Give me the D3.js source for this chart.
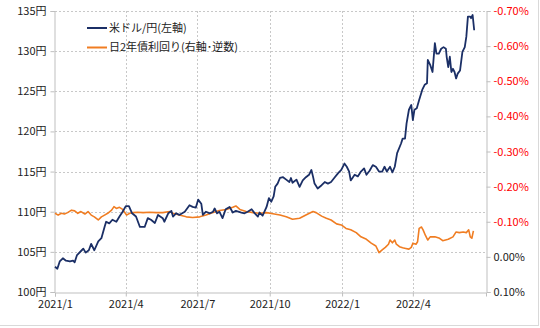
<!DOCTYPE html>
<html><head><meta charset="utf-8">
<script src="https://cdn.jsdelivr.net/npm/d3@7"></script>
<style>
html,body{margin:0;padding:0;background:#fff;}
svg{display:block;font-family:"Noto Sans CJK JP","Noto Sans",sans-serif;}
</style></head>
<body><svg id="c" width="540" height="328"></svg>
<script>
// USD/JPY (left axis)
const usdDates = ["2021-01-01","2021-01-04","2021-01-07","2021-01-11","2021-01-15","2021-01-20","2021-01-24","2021-01-26","2021-01-29","2021-02-04","2021-02-06","2021-02-09","2021-02-13","2021-02-16","2021-02-20","2021-02-25","2021-03-01","2021-03-05","2021-03-07","2021-03-11","2021-03-15","2021-03-20","2021-03-24","2021-03-28","2021-04-01","2021-04-05","2021-04-09","2021-04-14","2021-04-19","2021-04-25","2021-04-29","2021-05-03","2021-05-08","2021-05-12","2021-05-18","2021-05-20","2021-05-25","2021-05-29","2021-05-31","2021-06-04","2021-06-08","2021-06-15","2021-06-21","2021-06-25","2021-06-29","2021-07-02","2021-07-06","2021-07-08","2021-07-12","2021-07-17","2021-07-21","2021-07-23","2021-07-26","2021-07-29","2021-08-02","2021-08-06","2021-08-11","2021-08-15","2021-08-19","2021-08-26","2021-08-30","2021-09-03","2021-09-08","2021-09-12","2021-09-16","2021-09-18","2021-09-22","2021-09-27","2021-09-30","2021-10-03","2021-10-06","2021-10-08","2021-10-11","2021-10-14","2021-10-18","2021-10-22","2021-10-26","2021-10-28","2021-10-30","2021-11-04","2021-11-08","2021-11-12","2021-11-16","2021-11-20","2021-11-23","2021-11-25","2021-11-27","2021-12-01","2021-12-06","2021-12-10","2021-12-14","2021-12-18","2021-12-22","2021-12-27","2021-12-31","2022-01-04","2022-01-07","2022-01-10","2022-01-12","2022-01-17","2022-01-21","2022-01-25","2022-01-29","2022-02-01","2022-02-05","2022-02-09","2022-02-13","2022-02-17","2022-02-21","2022-02-24","2022-02-27","2022-03-03","2022-03-06","2022-03-09","2022-03-12","2022-03-17","2022-03-19","2022-03-22","2022-03-24","2022-03-27","2022-03-30","2022-04-01","2022-04-03","2022-04-06","2022-04-09","2022-04-13","2022-04-16","2022-04-19","2022-04-20","2022-04-23","2022-04-26","2022-04-29","2022-05-01","2022-05-04","2022-05-07","2022-05-10","2022-05-13","2022-05-14","2022-05-16","2022-05-18","2022-05-20","2022-05-22","2022-05-24","2022-05-26","2022-05-28","2022-05-31","2022-06-03","2022-06-06","2022-06-08","2022-06-10","2022-06-13","2022-06-14","2022-06-16","2022-06-18"];
const usdValues = [103.15,102.9,103.8,104.2,103.9,103.8,103.9,103.7,104.6,105.2,105.4,104.9,105.2,106.0,105.2,106.3,106.7,108.1,108.75,108.55,109.0,108.75,109.4,110.0,110.7,110.7,109.8,109.4,108.1,108.1,109.2,109.0,108.6,109.6,109.2,108.75,109.8,110.1,109.4,109.8,109.6,110.0,110.8,110.6,110.5,111.5,111.0,109.6,110.0,109.8,110.0,110.4,109.8,110.0,109.2,110.3,110.6,109.9,110.1,109.9,109.8,110.0,110.3,109.8,109.4,109.9,109.5,110.6,111.7,111.25,111.9,113.1,113.5,114.2,114.3,114.0,113.7,114.2,113.6,114.0,113.1,113.9,114.3,114.6,115.2,114.4,113.5,112.9,113.3,113.7,113.5,113.7,114.2,114.8,115.2,116.0,115.6,115.0,113.9,114.6,114.4,115.0,115.4,114.6,115.1,115.8,115.6,115.0,115.0,115.6,115.0,115.6,114.9,115.6,117.3,118.5,119.1,119.1,121.0,122.7,123.3,121.4,122.7,122.9,123.9,125.2,125.8,126.0,128.9,128.3,127.4,131.0,129.7,129.7,130.3,130.5,130.3,129.3,128.0,129.3,127.4,127.8,127.4,126.6,127.2,127.6,129.9,130.5,131.8,134.3,134.3,134.1,134.5,132.6];

// JGB 2-year yield, % (right axis, inverted)
const jgbDates = ["2021-01-01","2021-01-05","2021-01-09","2021-01-13","2021-01-17","2021-01-22","2021-01-26","2021-01-30","2021-02-03","2021-02-08","2021-02-12","2021-02-16","2021-02-20","2021-02-25","2021-03-01","2021-03-05","2021-03-09","2021-03-14","2021-03-17","2021-03-20","2021-03-24","2021-03-28","2021-04-02","2021-04-06","2021-04-10","2021-04-16","2021-04-23","2021-05-01","2021-05-10","2021-05-18","2021-05-27","2021-05-31","2021-06-08","2021-06-17","2021-06-25","2021-07-04","2021-07-12","2021-07-21","2021-07-29","2021-08-07","2021-08-15","2021-08-19","2021-08-24","2021-09-01","2021-09-10","2021-09-18","2021-09-27","2021-10-05","2021-10-14","2021-10-22","2021-10-30","2021-11-08","2021-11-16","2021-11-25","2021-11-29","2021-12-06","2021-12-12","2021-12-18","2021-12-25","2021-12-31","2022-01-06","2022-01-12","2022-01-19","2022-01-25","2022-02-01","2022-02-07","2022-02-13","2022-02-17","2022-02-21","2022-02-25","2022-03-01","2022-03-03","2022-03-06","2022-03-09","2022-03-11","2022-03-15","2022-03-19","2022-03-23","2022-03-27","2022-03-30","2022-04-01","2022-04-05","2022-04-07","2022-04-09","2022-04-12","2022-04-14","2022-04-17","2022-04-20","2022-04-23","2022-04-29","2022-05-05","2022-05-09","2022-05-16","2022-05-22","2022-05-26","2022-05-30","2022-06-04","2022-06-08","2022-06-11","2022-06-13","2022-06-15","2022-06-17"];
const jgbValues = [-0.124,-0.119,-0.124,-0.122,-0.126,-0.133,-0.131,-0.124,-0.129,-0.122,-0.129,-0.119,-0.114,-0.105,-0.114,-0.119,-0.124,-0.133,-0.143,-0.138,-0.141,-0.135,-0.119,-0.124,-0.126,-0.127,-0.126,-0.127,-0.126,-0.126,-0.129,-0.124,-0.119,-0.114,-0.112,-0.114,-0.119,-0.126,-0.132,-0.135,-0.141,-0.145,-0.135,-0.129,-0.126,-0.124,-0.126,-0.123,-0.119,-0.114,-0.107,-0.110,-0.119,-0.129,-0.126,-0.116,-0.110,-0.105,-0.094,-0.091,-0.081,-0.077,-0.069,-0.057,-0.050,-0.039,-0.031,-0.012,-0.020,-0.027,-0.036,-0.048,-0.040,-0.048,-0.036,-0.029,-0.026,-0.024,-0.022,-0.027,-0.039,-0.036,-0.043,-0.081,-0.085,-0.077,-0.061,-0.048,-0.057,-0.057,-0.053,-0.046,-0.050,-0.057,-0.071,-0.069,-0.071,-0.069,-0.077,-0.057,-0.053,-0.074];

const leftTicks = [100,105,110,115,120,125,130,135];
const leftTickLabels = ["100円","105円","110円","115円","120円","125円","130円","135円"];
const rightTicks = [-0.7,-0.6,-0.5,-0.4,-0.3,-0.2,-0.1,0.0,0.1];
const rightTickLabels = ["-0.70%","-0.60%","-0.50%","-0.40%","-0.30%","-0.20%","-0.10%","0.00%","0.10%"];
const xTickDates = ["2021-01-01","2021-04-01","2021-07-01","2021-10-01","2022-01-01","2022-04-01"];
const xTickLabels = ["2021/1","2021/4","2021/7","2021/10","2022/1","2022/4"];
const seriesNames = ["米ドル/円(左軸)","日2年債利回り(右軸･逆数)"];

const parse = d3.timeParse("%Y-%m-%d");
const svg = d3.select("#c");
const L = 55, R = 486, T = 11, B = 292;

const x = d3.scaleTime().domain([parse("2021-01-01"), parse("2022-07-03")]).range([L, R]);
const yL = d3.scaleLinear().domain([100,135]).range([B, T]);
const yR = d3.scaleLinear().domain([-0.7,0.1]).range([T, B]);

// outer frame shadow
svg.append("line").attr("x1",0).attr("x2",539).attr("y1",325.5).attr("y2",325.5).attr("stroke","#d9d9d9");
svg.append("line").attr("x1",538.5).attr("x2",538.5).attr("y1",0).attr("y2",326).attr("stroke","#d9d9d9");

// gridlines
const grid = svg.append("g");
grid.selectAll("line.h").data(leftTicks.filter(d=>d>100)).enter().append("line")
  .attr("x1",L).attr("x2",R).attr("y1",d=>Math.round(yL(d))+0.5).attr("y2",d=>Math.round(yL(d))+0.5)
  .attr("stroke","#c8c8c8").attr("stroke-dasharray","2,2");
grid.selectAll("line.v").data(xTickDates.slice(1)).enter().append("line")
  .attr("y1",T).attr("y2",B).attr("x1",d=>Math.round(x(parse(d)))+0.5).attr("x2",d=>Math.round(x(parse(d)))+0.5)
  .attr("stroke","#c8c8c8").attr("stroke-dasharray","2,2");

// axes
const axisColor = "#bfbfbf";
const gL = svg.append("g").attr("transform",`translate(${L-0.5},0)`)
  .call(d3.axisLeft(yL).tickValues(leftTicks).tickSize(4).tickFormat((d,i)=>leftTickLabels[i]));
const gR = svg.append("g").attr("transform",`translate(${R+0.5},0)`)
  .call(d3.axisRight(yR).tickValues(rightTicks).tickSize(4).tickFormat((d,i)=>rightTickLabels[i]));
const gB = svg.append("g").attr("transform",`translate(0,${B+0.5})`)
  .call(d3.axisBottom(x).tickValues(xTickDates.map(parse)).tickSize(4).tickFormat((d,i)=>xTickLabels[i]));
[gL,gR,gB].forEach(g=>{
  g.select(".domain").attr("stroke",axisColor);
  g.selectAll(".tick line").attr("stroke",axisColor);
  g.selectAll("text").attr("font-size",11).attr("font-family",'"Noto Sans CJK JP",sans-serif').attr("fill","#222");
});
gL.selectAll("text").attr("x",-8);
gR.selectAll("text").attr("x",7).attr("fill",(d)=> d<0 ? "#ff0000" : "#222");
gB.selectAll("text").attr("y",8);

// lines
const usd = usdDates.map((d,i)=>({date:parse(d), v:usdValues[i]}));
const jgb = jgbDates.map((d,i)=>({date:parse(d), v:jgbValues[i]}));
svg.append("path").datum(jgb).attr("fill","none").attr("stroke","#f07d22").attr("stroke-width",1.6)
  .attr("stroke-linejoin","round")
  .attr("d", d3.line().x(d=>x(d.date)).y(d=>yR(d.v)));
svg.append("path").datum(usd).attr("fill","none").attr("stroke","#1b2f66").attr("stroke-width",1.8)
  .attr("stroke-linejoin","round")
  .attr("d", d3.line().x(d=>x(d.date)).y(d=>yL(d.v)));

// legend
const colors = ["#1b2f66","#f07d22"];
const lg = svg.append("g");
seriesNames.forEach((name,i)=>{
  const yy = 28 + i*19.5;
  lg.append("line").attr("x1",87).attr("x2",107).attr("y1",yy).attr("y2",yy).attr("stroke",colors[i]).attr("stroke-width",2);
  lg.append("text").attr("x",109).attr("y",yy).attr("dy","0.35em").attr("font-size",11).attr("fill","#222").text(name);
});
</script></body></html>
